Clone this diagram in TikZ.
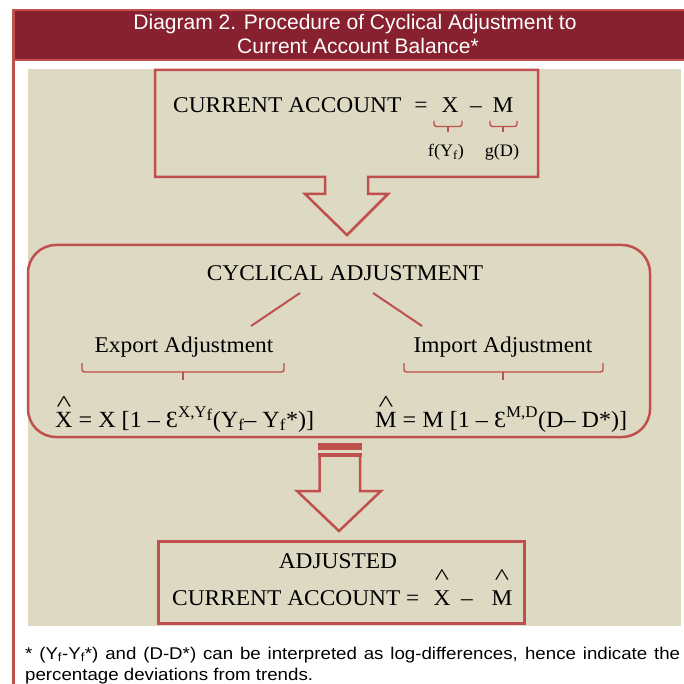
\documentclass[tikz,border=0pt]{standalone}
\usepackage{fontspec}
\usepackage{graphicx}
\setmainfont[FakeStretch=1.04]{Liberation Serif}
\newfontfamily\arialfont{Liberation Sans}
\newfontfamily\arialwide[FakeStretch=1.1]{Liberation Sans}
\definecolor{bgbeige}{HTML}{DDD9C3}
\definecolor{linered}{HTML}{C0504D}
\definecolor{titlered}{HTML}{88212F}
\newsavebox\hatbase
\newcommand\hatted[2][0.66em]{\sbox\hatbase{#2}\makebox[0pt][l]{\makebox[\wd\hatbase][c]{\raisebox{#1}[0pt][0pt]{\scalebox{1.3}[1]{\textasciicircum}}}}\usebox\hatbase}
\begin{document}
\begin{tikzpicture}[x=1pt,y=-1pt,
  big/.style={font=\fontsize{22.5}{27}\selectfont, inner sep=0pt, anchor=base},
  formula/.style={font=\fontsize{23.2}{27}\selectfont, inner sep=0pt, anchor=base west},
  small/.style={font=\fontsize{17.5}{20}\selectfont, inner sep=0pt, anchor=base},
  titletext/.style={font=\arialfont\fontsize{21}{24}\selectfont, text=white, inner sep=0pt, anchor=base},
  foot/.style={font=\arialwide\fontsize{17}{21}\selectfont, inner sep=0pt, anchor=base west},
  frame/.style={draw=linered, line width=2.5pt, fill=bgbeige, line join=miter},
  thinline/.style={draw=linered, line width=1.4pt},
  link/.style={draw=linered, line width=2pt},
]
\useasboundingbox (0,0) rectangle (683,684);
\fill[white] (0,0) rectangle (683,684);
% title bar
\fill[titlered] (12,10) rectangle (690,60);
\draw[linered, line width=2pt] (12,10) -- (690,10);
\draw[linered, line width=2pt] (12,60) -- (690,60);
\draw[linered, line width=2.5pt] (13.5,9) -- (13.5,690);
\node[titletext] (title1) at (355,30) {Diagram 2. Procedure of Cyclical Adjustment to};
\node[titletext] (title2) at (358,53.5) {Current Account Balance*};
% panel
\fill[bgbeige] (28,69) rectangle (681,626);
% top box with arrow
\draw[frame] (155,70) -- (538,70) -- (538,177) -- (368,177) -- (368,194) -- (388,194)
  -- (347,235) -- (305,194) -- (325,194) -- (325,177) -- (155,177) -- cycle;
\node[big, anchor=base west] (ca) at (173,113) {CURRENT ACCOUNT};
\node[big] (eq1) at (421,113) {=};
\node[big] (x1) at (450,113) {X};
\node[big] (mi1) at (476,113) {–};
\node[big] (m1) at (503,113) {M};
\draw[thinline, rounded corners=2.5pt] (434,121) |- (462,126.5) -- (462,121);
\draw[thinline] (448,126.5) -- (448,132);
\draw[thinline, rounded corners=2.5pt] (490,121) |- (517,126.5) -- (517,121);
\draw[thinline] (503,126.5) -- (503,132);
\node[small] (fy) at (446,157) {f(Y\textsubscript{f})};
\node[small] (gd) at (502,157) {g(D)};
% cyclical box
\draw[frame, rounded corners=28pt] (28,245) rectangle (650,437);
\node[big] (cyc) at (345,280) {CYCLICAL ADJUSTMENT};
\node[big] (exp) at (184,352) {Export Adjustment};
\node[big] (imp) at (503,352) {Import Adjustment};
\coordinate (cycL) at (300,293);
\coordinate (cycR) at (373,293);
\coordinate (expT) at (251,326);
\coordinate (impT) at (422,326);
\draw[link] (cycL) -- (expT);
\draw[link] (cycR) -- (impT);
\draw[thinline, rounded corners=2.5pt] (82,363) |- (284,372) -- (284,363);
\draw[thinline] (183,372) -- (183,380);
\draw[thinline, rounded corners=2.5pt] (404,363) |- (603,372) -- (603,363);
\draw[thinline] (503,372) -- (503,380);
\node[formula] (xform) at (55,427) {\hatted{X} = X [1 – Ɛ\textsuperscript{X,Y\raisebox{-0.15em}{f}}(Y\textsubscript{f}– Y\textsubscript{f}*)]};
\node[formula] (mform) at (375,427) {\hatted{M} = M [1 – Ɛ\textsuperscript{M,D}(D– D*)]};
% lower arrow
\draw[frame] (319.5,457) -- (319.5,491) -- (297,491) -- (339,531) -- (381,491) -- (360,491) -- (360,457);
\fill[linered] (318,443) rectangle (361.5,457);
\fill[bgbeige] (318,449.7) rectangle (361.5,452.7);
% bottom box
\draw[frame, line width=3pt] (158,541) rectangle (524,623);
\node[big] (adj) at (338,568) {ADJUSTED};
\node[big, anchor=base west] (ca2) at (172,605) {CURRENT ACCOUNT =};
\node[big] (x2) at (442,605) {\hatted[0.9em]{X}};
\node[big] (mi2) at (467,605) {–};
\node[big] (m2) at (502,605) {\hatted[0.9em]{M}};
% footnote
\node[foot] (fn1) at (25,659) {\makebox[655pt][s]{* (Y\textsubscript{f}-Y\textsubscript{f}*) and (D-D*) can be interpreted as log-differences, hence indicate the}};
\node[foot] (fn2) at (25,680) {percentage deviations from trends.};
\end{tikzpicture}
\end{document}
